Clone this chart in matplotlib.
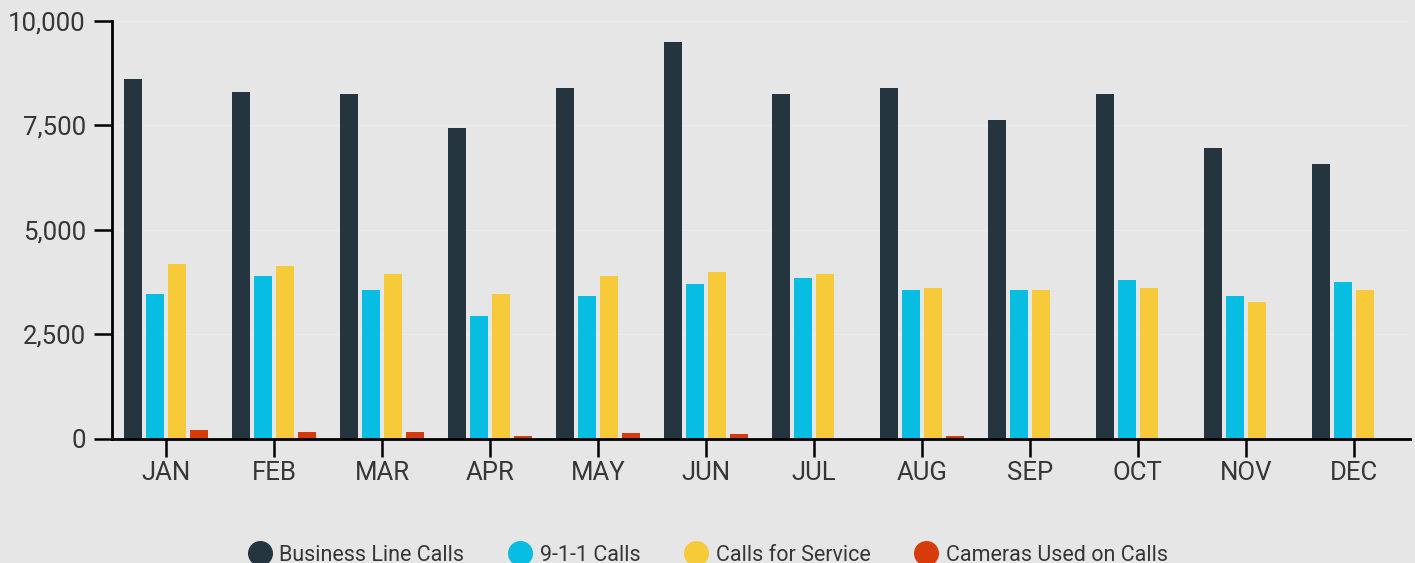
import matplotlib.pyplot as plt
import numpy as np
from matplotlib.lines import Line2D
from matplotlib.ticker import FuncFormatter

months = ["JAN", "FEB", "MAR", "APR", "MAY", "JUN", "JUL", "AUG", "SEP", "OCT", "NOV", "DEC"]
business_line = [8600, 8300, 8250, 7450, 8400, 9500, 8250, 8400, 7630, 8250, 6960, 6580]
calls_911 = [3470, 3900, 3560, 2940, 3420, 3700, 3850, 3560, 3560, 3800, 3420, 3750]
calls_service = [4190, 4140, 3950, 3470, 3900, 3990, 3950, 3610, 3560, 3610, 3270, 3560]
cameras = [210, 160, 160, 65, 135, 112, 0, 64, 0, 0, 0, 0]

series_names = ["Business Line Calls", "9-1-1 Calls", "Calls for Service", "Cameras Used on Calls"]
colors = ["#243540", "#08bde2", "#f7ca3a", "#d83b0b"]

plt.rcParams['font.family'] = ['Roboto', 'DejaVu Sans']
bg = "#e6e6e6"
text_color = "#363636"

fig = plt.figure(figsize=(14.15, 5.63), dpi=100, facecolor=bg)
ax = fig.add_axes([0.0792, 0.2208, 0.9173, 0.7419], facecolor=bg)

x = np.arange(len(months))
pitch = 0.204
width = 0.167
all_series = [business_line, calls_911, calls_service, cameras]
for i, (vals, c) in enumerate(zip(all_series, colors)):
    ax.bar(x + (i - 1.5) * pitch, vals, width=width, color=c, zorder=3)

ax.set_xlim(-0.5, 11.52)
ax.set_ylim(0, 10000)
ax.set_yticks([0, 2500, 5000, 7500, 10000])
ax.yaxis.set_major_formatter(FuncFormatter(lambda v, p: f"{int(v):,}"))
ax.set_xticks(x)
ax.set_xticklabels(months)

ax.grid(axis='y', color='#ebebeb', linewidth=1, zorder=0)
for s in ['top', 'right']:
    ax.spines[s].set_visible(False)
for s in ['left', 'bottom']:
    ax.spines[s].set_linewidth(2)
    ax.spines[s].set_color('black')
    ax.spines[s].set_zorder(4)

ax.tick_params(axis='both', length=13, width=1.8, color='black',
               labelsize=18.5, labelcolor=text_color)
ax.tick_params(axis='x', pad=3)
ax.tick_params(axis='y', pad=6)

handles = [Line2D([], [], marker='o', linestyle='none', markersize=17,
                  markerfacecolor=c, markeredgecolor=c) for c in colors]
fig.legend(handles, series_names, loc='center', bbox_to_anchor=(0.5, 0.014),
           ncol=4, frameon=False, fontsize=15.5, labelcolor=text_color,
           handletextpad=0.3, columnspacing=2.0, handlelength=1.2)

fig.savefig("out.png", dpi=100, facecolor=bg)
